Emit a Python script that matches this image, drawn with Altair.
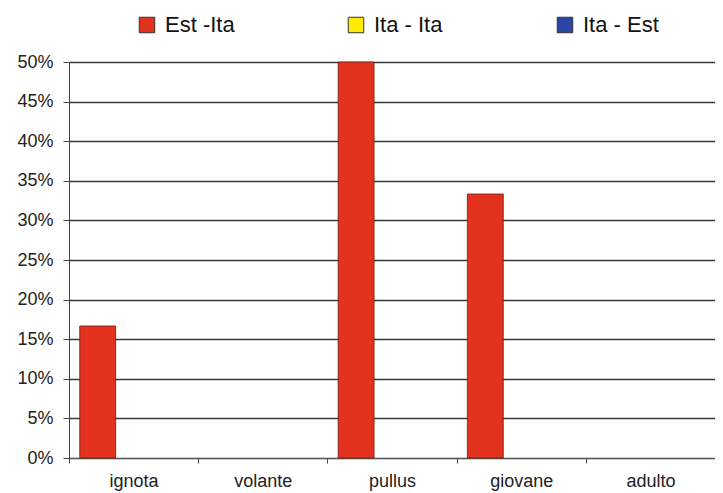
import altair as alt
import pandas as pd

categories = ["ignota", "volante", "pullus", "giovane", "adulto"]
series = ["Est -Ita", "Ita - Ita", "Ita - Est"]
est_ita = [0.1667, 0.0, 0.5, 0.3333, 0.0]
ita_ita = [0.0, 0.0, 0.0, 0.0, 0.0]
ita_est = [0.0, 0.0, 0.0, 0.0, 0.0]
colors = ["#E3331F", "#FFEC00", "#2C46A6"]
y_ticks = [0, 0.05, 0.10, 0.15, 0.20, 0.25, 0.30, 0.35, 0.40, 0.45, 0.50]

rows = []
for name, vals in zip(series, [est_ita, ita_ita, ita_est]):
    for c, v in zip(categories, vals):
        rows.append({"categoria": c, "serie": name, "valore": v})
df = pd.DataFrame(rows)

FONT = "Liberation Sans"

chart = (
    alt.Chart(df)
    .mark_bar(stroke="#6b1a10", strokeWidth=0.8)
    .encode(
        x=alt.X(
            "categoria:N",
            sort=categories,
            scale=alt.Scale(paddingInner=0, paddingOuter=0),
            axis=alt.Axis(
                title=None,
                labelAngle=0,
                tickBand="extent",
                tickSize=5,
                tickColor="#444",
                domainColor="#555",
                labelPadding=9,
                labelFontSize=18,
                labelFont=FONT,
                labelColor="#222",
                grid=False,
            ),
        ),
        xOffset=alt.XOffset(
            "serie:N", sort=series, scale=alt.Scale(paddingOuter=0.3, paddingInner=0)
        ),
        y=alt.Y(
            "valore:Q",
            scale=alt.Scale(domain=[0, 0.5]),
            axis=alt.Axis(
                title=None,
                format=".0%",
                values=y_ticks,
                grid=True,
                gridColor="#383838",
                gridWidth=1.4,
                domainColor="#444",
                tickSize=6,
                tickColor="#444",
                labelPadding=10,
                labelFontSize=18,
                labelFont=FONT,
                labelColor="#222",
            ),
        ),
        color=alt.Color(
            "serie:N",
            sort=series,
            scale=alt.Scale(domain=series, range=colors),
            legend=alt.Legend(
                title=None,
                orient="none",
                direction="horizontal",
                legendX=67,
                legendY=-48,
                columns=3,
                gridAlign="all",
                columnPadding=104,
                symbolType="square",
                symbolSize=240,
                symbolStrokeColor="#333",
                symbolStrokeWidth=1,
                labelFontSize=22,
                labelFont=FONT,
                labelColor="#111",
                labelOffset=7,
                padding=0,
            ),
        ),
        strokeOpacity=alt.condition("datum.valore > 0", alt.value(1), alt.value(0)),
    )
    .properties(
        width=646,
        height=396,
        autosize=alt.AutoSizeParams(type="none"),
        padding={"left": 61, "top": 54, "right": 0, "bottom": 34},
    )
    .configure_view(stroke=None)
)

chart.save("out.html", embed_options={"renderer": "svg", "actions": False})
